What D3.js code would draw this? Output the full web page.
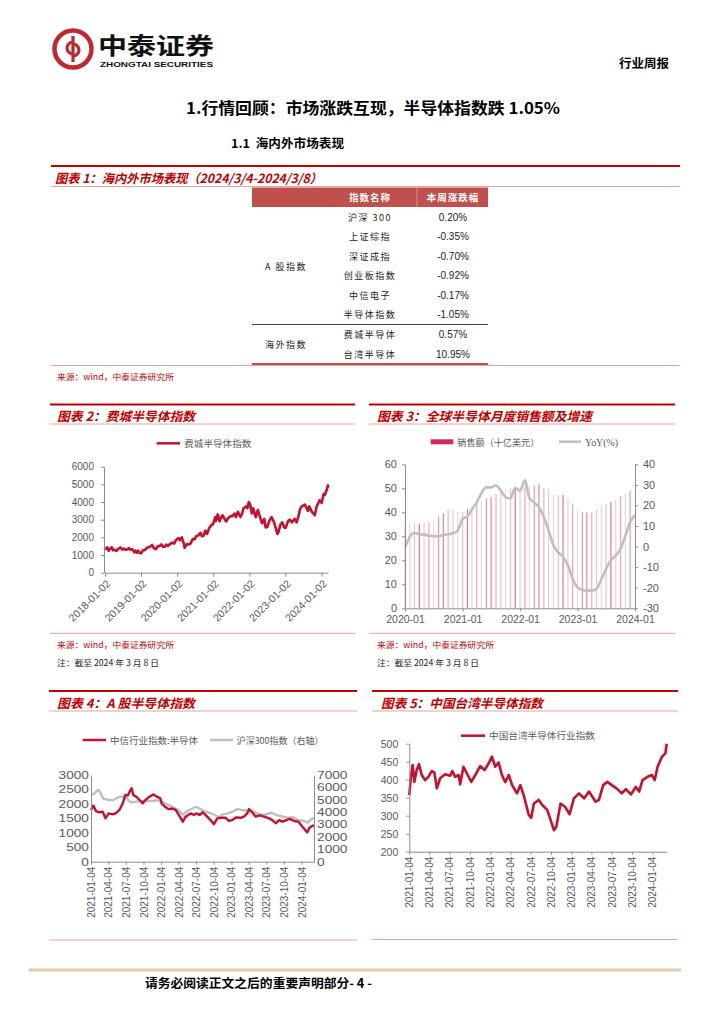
<!DOCTYPE html>
<html><head><meta charset="utf-8">
<script src="https://cdn.jsdelivr.net/npm/d3@7"></script>
<style>
body{margin:0;background:#fff;}
svg{display:block;}
</style></head><body>
<svg id="page" width="724" height="1024"></svg>
<script>
// ---------------- DATA ----------------
const tableGroups = ["A 股指数", "海外指数"];
const tableNames = ["沪深 300", "上证综指", "深证成指", "创业板指数", "中信电子", "半导体指数", "费城半导体", "台湾半导体"];
const tableChanges = ["0.20%", "-0.35%", "-0.70%", "-0.92%", "-0.17%", "-1.05%", "0.57%", "10.95%"];

// Fig 2: 费城半导体指数
const fig2YTicks = [0, 1000, 2000, 3000, 4000, 5000, 6000];
const fig2XTicks = ["2018-01-02", "2019-01-02", "2020-01-02", "2021-01-02", "2022-01-02", "2023-01-02", "2024-01-02"];
const soxSeries = [
["2018-01-02",1300],["2018-01-12",1380],["2018-01-26",1430],["2018-02-08",1240],["2018-02-26",1370],["2018-03-12",1440],
["2018-03-23",1270],["2018-04-06",1300],["2018-04-25",1230],["2018-05-15",1340],["2018-06-06",1430],["2018-06-27",1310],
["2018-07-11",1370],["2018-07-27",1300],["2018-08-15",1320],["2018-08-29",1390],["2018-09-12",1300],["2018-10-03",1340],
["2018-10-29",1150],["2018-11-08",1250],["2018-11-23",1130],["2018-12-03",1250],["2018-12-24",1100],["2019-01-03",1100],
["2019-01-18",1250],["2019-02-08",1280],["2019-03-01",1400],["2019-03-21",1450],["2019-04-10",1500],["2019-04-24",1570],
["2019-05-13",1380],["2019-05-31",1330],["2019-06-20",1500],["2019-07-10",1520],["2019-07-26",1600],["2019-08-14",1460],
["2019-09-03",1480],["2019-09-12",1590],["2019-10-02",1520],["2019-10-23",1620],["2019-11-13",1700],["2019-12-03",1650],
["2019-12-20",1830],["2020-01-17",1960],["2020-01-31",1840],["2020-02-19",2000],["2020-03-09",1650],["2020-03-18",1400],
["2020-04-08",1620],["2020-04-21",1600],["2020-05-13",1620],["2020-06-08",1900],["2020-06-26",1890],["2020-07-13",2070],
["2020-07-31",2100],["2020-08-25",2260],["2020-09-08",2070],["2020-09-23",2080],["2020-10-13",2380],["2020-10-30",2190],
["2020-11-24",2550],["2020-12-15",2700],["2020-12-31",2750],["2021-01-22",3150],["2021-01-29",2930],["2021-02-16",3300],
["2021-03-08",2900],["2021-03-19",3100],["2021-04-05",3250],["2021-05-12",2900],["2021-06-03",3100],["2021-06-25",3200],
["2021-07-15",3200],["2021-08-06",3350],["2021-08-19",3150],["2021-09-08",3450],["2021-10-04",3150],["2021-10-21",3350],
["2021-11-04",3650],["2021-11-29",3750],["2021-12-13",3650],["2021-12-27",4000],["2022-01-11",3850],["2022-01-27",3350],
["2022-02-10",3650],["2022-03-08",3150],["2022-03-29",3550],["2022-04-20",3150],["2022-05-11",2800],["2022-06-02",3050],
["2022-06-16",2560],["2022-07-05",2600],["2022-07-20",2900],["2022-08-15",3150],["2022-09-09",2850],["2022-09-30",2450],
["2022-10-13",2190],["2022-10-27",2350],["2022-11-10",2700],["2022-12-01",2850],["2022-12-22",2550],["2023-01-05",2550],
["2023-01-27",2900],["2023-02-14",3000],["2023-03-10",2850],["2023-04-06",3050],["2023-04-26",2850],["2023-05-19",3300],
["2023-05-30",3600],["2023-06-16",3750],["2023-07-18",3850],["2023-08-18",3500],["2023-09-01",3750],["2023-09-26",3450],
["2023-10-26",3250],["2023-11-14",3750],["2023-12-14",4100],["2024-01-04",3950],["2024-01-24",4450],["2024-02-05",4400],
["2024-02-22",4650],["2024-03-07",4950],["2024-03-08",4800]
];

// Fig 3: 全球半导体月度销售额及增速 (monthly from 2020-01)
const fig3Start = "2020-01-01";
const salesValues = [35.5,35.4,35.7,35.3,35.8,35.8,36.4,38.1,39.7,41.0,41.3,40.3,
  40.1,41.4,42.4,44.2,45.1,45.8,46.3,47.6,48.6,49.4,50.0,50.5,
  50.4,50.8,50.7,51.0,51.7,50.1,49.6,47.2,47.2,47.2,45.7,43.6,
  41.5,40.0,39.9,40.1,41.1,42.5,43.5,44.3,45.0,46.8,47.8,48.9];
const yoyValues = [-0.5,4.9,6.6,6.0,5.8,5.3,5.0,5.0,5.7,6.0,6.6,7.8,
  13.5,14.7,18.0,21.5,26.0,28.8,28.8,29.7,27.2,24.0,23.5,28.6,
  27.0,32.4,23.5,21.5,19.1,14.3,7.8,0.5,-2.8,-4.9,-9.2,-15.7,
  -19.8,-21.1,-21.4,-21.4,-20.6,-16.0,-10.9,-6.8,-4.4,-1.1,5.3,11.8,15.4];
const fig3LeftTicks = [0,10,20,30,40,50,60];
const fig3RightTicks = [-30,-20,-10,0,10,20,30,40];
const fig3XTicks = ["2020-01","2021-01","2022-01","2023-01","2024-01"];

// Fig 4: A股半导体指数
const fig45XTicks = ["2021-01-04","2021-04-04","2021-07-04","2021-10-04","2022-01-04","2022-04-04","2022-07-04",
  "2022-10-04","2023-01-04","2023-04-04","2023-07-04","2023-10-04","2024-01-04"];
const fig4LeftTicks = [0,500,1000,1500,2000,2500,3000];
const fig4RightTicks = [0,1000,2000,3000,4000,5000,6000,7000];
const fig4Semi = [
["2021-01-04",1790],["2021-01-16",1940],["2021-01-30",1750],["2021-02-16",1710],["2021-03-06",1730],["2021-03-20",1500],
["2021-04-06",1670],["2021-04-27",1640],["2021-05-14",1680],["2021-06-01",1790],["2021-06-18",2020],["2021-07-02",2310],
["2021-07-14",2290],["2021-07-26",2450],["2021-08-03",2540],["2021-08-12",2310],["2021-08-27",2250],["2021-09-13",2135],
["2021-09-30",2020],["2021-10-14",2135],["2021-11-04",2250],["2021-11-25",2330],["2021-12-12",2250],["2021-12-30",2190],
["2022-01-06",2020],["2022-01-24",1900],["2022-02-10",1820],["2022-03-03",1840],["2022-03-20",1790],["2022-04-06",1615],
["2022-04-26",1385],["2022-05-11",1560],["2022-06-06",1670],["2022-06-23",1615],["2022-07-06",1670],["2022-07-22",1615],
["2022-08-08",1710],["2022-08-31",1560],["2022-09-17",1440],["2022-10-05",1300],["2022-10-22",1500],["2022-11-14",1520],
["2022-12-05",1520],["2022-12-22",1410],["2023-01-08",1440],["2023-01-29",1535],["2023-02-21",1520],["2023-03-10",1560],
["2023-03-27",1670],["2023-04-05",1820],["2023-04-19",1730],["2023-05-10",1560],["2023-05-31",1600],["2023-06-23",1560],
["2023-07-19",1500],["2023-08-05",1440],["2023-08-22",1330],["2023-09-09",1440],["2023-09-26",1385],["2023-10-17",1440],
["2023-11-03",1480],["2023-11-26",1410],["2023-12-18",1385],["2024-01-08",1210],["2024-02-02",1015],["2024-02-14",1180],
["2024-03-08",1270]
];
const fig4Csi = [
["2021-01-04",5400],["2021-01-20",5500],["2021-02-10",5800],["2021-02-18",5700],["2021-03-09",5100],["2021-04-06",4980],
["2021-04-30",4980],["2021-05-27",5200],["2021-06-18",5250],["2021-07-10",5115],["2021-07-28",4800],["2021-08-24",4845],
["2021-09-13",4900],["2021-10-20",4900],["2021-11-24",4900],["2021-12-13",4980],["2022-01-06",4845],["2022-02-03",4630],
["2022-03-03",4440],["2022-04-03",4170],["2022-04-26",3800],["2022-05-20",4090],["2022-07-04",4440],["2022-07-20",4310],
["2022-08-15",4090],["2022-09-20",3900],["2022-10-31",3600],["2022-11-20",3820],["2022-12-15",3900],["2023-01-10",4040],
["2023-02-05",4250],["2023-02-28",4170],["2023-04-03",4090],["2023-04-28",4040],["2023-05-25",3850],["2023-06-20",3770],
["2023-07-31",3950],["2023-08-25",3770],["2023-09-30",3630],["2023-10-25",3550],["2023-11-20",3600],["2023-12-20",3350],
["2024-01-15",3300],["2024-02-05",3150],["2024-02-20",3400],["2024-03-08",3550]
];

// Fig 5: 中国台湾半导体行业指数
const fig5YTicks = [200,250,300,350,400,450,500];
const fig5Series = [
["2021-01-04",357],["2021-01-10",399],["2021-01-19",441],["2021-01-27",394],["2021-02-06",427],["2021-02-17",443],
["2021-03-01",413],["2021-03-16",399],["2021-03-31",408],["2021-04-15",424],["2021-04-27",420],["2021-05-08",376],
["2021-05-23",404],["2021-06-14",415],["2021-07-07",411],["2021-07-17",424],["2021-07-29",408],["2021-08-14",413],
["2021-08-21",387],["2021-09-05",436],["2021-09-20",418],["2021-10-10",394],["2021-10-28",413],["2021-11-19",438],
["2021-12-09",427],["2021-12-27",445],["2022-01-11",464],["2022-01-26",436],["2022-02-10",448],["2022-02-25",413],
["2022-03-12",393],["2022-03-28",413],["2022-04-12",385],["2022-05-04",362],["2022-05-19",385],["2022-06-03",357],
["2022-06-26",302],["2022-07-07",294],["2022-07-19",334],["2022-08-10",344],["2022-08-25",330],["2022-09-17",316],
["2022-10-05",283],["2022-10-17",260],["2022-10-28",269],["2022-11-16",334],["2022-12-06",325],["2022-12-27",304],
["2023-01-15",348],["2023-02-07",362],["2023-03-02",348],["2023-03-24",367],["2023-04-23",339],["2023-05-08",344],
["2023-05-27",385],["2023-06-15",394],["2023-07-05",385],["2023-07-26",376],["2023-08-19",362],["2023-09-06",374],
["2023-09-29",359],["2023-10-21",380],["2023-11-05",367],["2023-11-20",399],["2023-12-13",408],["2024-01-02",413],
["2024-01-14",399],["2024-01-27",436],["2024-02-16",464],["2024-03-02",473],["2024-03-08",500]
];

// ---------------- STYLE ----------------
const CN = '"Noto Sans CJK SC","Noto Sans CJK JP",sans-serif';
const NUM = '"Liberation Sans",Arial,sans-serif';
const RED = "#c00000";
const SERIES_RED = "#c8102e";
const GRAY = "#bfbfbf";
const THIN = "#eda39b";
const AXIS = "#8c8c8c";
const LABEL = "#595959";
const plain = d => String(d);

const parse = d3.timeParse("%Y-%m-%d");
const svg = d3.select("#page");

function txt(x, y, s, o = {}) {
  const t = svg.append("text").attr("x", x).attr("y", y).text(s)
    .attr("font-family", o.ff || CN).attr("font-size", o.fs || 10)
    .attr("fill", o.fill || "#000").attr("font-weight", o.fw || "normal")
    .attr("font-style", o.fst || "normal").attr("text-anchor", o.anchor || "start")
    .attr("dominant-baseline", "central").style("white-space", "pre");
  if (o.len) t.attr("textLength", o.len).attr("lengthAdjust", "spacingAndGlyphs");
  if (o.ls) t.attr("letter-spacing", o.ls);
  return t;
}
function hline(x1, x2, y, color, w) {
  svg.append("line").attr("x1", x1).attr("x2", x2).attr("y1", y).attr("y2", y)
    .attr("stroke", color).attr("stroke-width", w);
}
function styleAxis(g, fs) {
  g.select(".domain").attr("stroke", AXIS).attr("stroke-width", 1);
  g.selectAll(".tick line").attr("stroke", AXIS);
  g.selectAll(".tick text").attr("fill", LABEL).attr("font-family", NUM).attr("font-size", fs);
}
function figFrame(x1, x2, yTop, title, titleLen, titleX, yThin, yBottom) {
  hline(x1, x2, yTop, RED, 2);
  txt(titleX, yTop + 11, title, {fs: 12.5, fw: "bold", fst: "italic", fill: RED, len: titleLen});
  hline(x1, x2, yThin, THIN, 1);
  hline(x1, x2, yBottom, THIN, 1);
}

// ---------------- HEADER ----------------
const logo = svg.append("g");
logo.append("circle").attr("cx", 73).attr("cy", 49).attr("r", 18.5)
  .attr("fill", "none").attr("stroke", "#c1272d").attr("stroke-width", 4.5);
logo.append("path").attr("d", "M73,36 L73,62 M73,42 A6,6 0 1,0 73,54 M73,44 A6,6 0 1,1 73,56")
  .attr("fill", "none").attr("stroke", "#c1272d").attr("stroke-width", 3.2);
txt(98, 44, "中泰证券", {fs: 23, fw: "bold", len: 116, fill: "#111"});
txt(100, 64, "ZHONGTAI SECURITIES", {ff: NUM, fs: 8, fw: "bold", len: 113, fill: "#111"});
txt(619, 62, "行业周报", {fs: 12, fw: "bold", len: 50});
txt(186, 107, "1.行情回顾：市场涨跌互现，半导体指数跌 1.05%", {fs: 15.5, fw: "bold", len: 374});
txt(231, 142, "1.1\u00a0\u00a0海内外市场表现", {fs: 12, fw: "bold", len: 113});

// ---------------- FIG 1 TABLE ----------------
hline(51, 680, 166, RED, 2);
txt(55, 177, "图表 1：海内外市场表现（2024/3/4-2024/3/8）", {fs: 12.5, fw: "bold", fst: "italic", fill: RED, len: 267});
hline(51, 680, 186.5, THIN, 1);
const tX0 = 252, tX1 = 488, tDiv = 417;
svg.append("rect").attr("x", tX0).attr("y", 187.5).attr("width", tX1 - tX0).attr("height", 19.5).attr("fill", "#c0504d");
svg.append("line").attr("x1", tDiv).attr("x2", tDiv).attr("y1", 187.5).attr("y2", 207).attr("stroke", "#d98b88").attr("stroke-width", 1);
txt(370, 197, "指数名称", {fs: 9.5, fw: "bold", fill: "#fff", anchor: "middle", ls: 1});
txt(453, 197, "本周涨跌幅", {fs: 9.5, fw: "bold", fill: "#fff", anchor: "middle", ls: 1});
const rowY = [217, 236.5, 256, 275.5, 295, 314.5, 334.5, 354];
tableNames.forEach((n, i) => {
  txt(370, rowY[i], n, {fs: 9, anchor: "middle", ls: 1.5, fill: "#222"});
  txt(453, rowY[i], tableChanges[i], {ff: NUM, fs: 10, anchor: "middle", fill: "#222"});
});
txt(286, 266, tableGroups[0], {fs: 9, anchor: "middle", ls: 1.5, fill: "#222"});
txt(286, 344.5, tableGroups[1], {fs: 9, anchor: "middle", ls: 1.5, fill: "#222"});
hline(tX0, tX1, 324.5, "#404040", 1);
hline(tX0, tX1, 364, "#c0504d", 2);
hline(51, 680, 365.5, THIN, 1);
txt(57, 375.5, "来源：wind，中泰证券研究所", {fs: 8.5, fill: RED, len: 117});

// ---------------- FIG 2 ----------------
figFrame(50, 355, 404.5, "图表 2：费城半导体指数", 138, 57, 424, 633.3);
txt(57, 643.5, "来源：wind，中泰证券研究所", {fs: 8.5, fill: RED, len: 117});
txt(57, 661.7, "注：截至 2024 年 3 月 8 日", {fs: 8.5, fill: "#222", len: 102});
svg.append("line").attr("x1", 156.7).attr("x2", 180).attr("y1", 443.3).attr("y2", 443.3).attr("stroke", SERIES_RED).attr("stroke-width", 2.5);
txt(184.3, 443.3, "费城半导体指数", {fs: 9, fill: LABEL, len: 67});
{
  const x = d3.scaleTime().domain([parse("2018-01-02"), parse("2024-03-08")]).range([105, 328]);
  const y = d3.scaleLinear().domain([0, 6000]).range([572.7, 466.7]);
  svg.append("path").datum(soxSeries).attr("fill", "none").attr("stroke", SERIES_RED).attr("stroke-width", 2.6)
    .attr("stroke-linejoin", "round")
    .attr("d", d3.line().x(d => x(parse(d[0]))).y(d => y(d[1])));
  const gL = svg.append("g").attr("transform", "translate(104,0)")
    .call(d3.axisLeft(y).tickValues(fig2YTicks).tickFormat(plain).tickSize(3).tickPadding(7).tickSizeOuter(0));
  styleAxis(gL, 10);
  const gB = svg.append("g").attr("transform", "translate(0,572.7)")
    .call(d3.axisBottom(x).tickValues(fig2XTicks.map(parse)).tickSize(4).tickSizeOuter(0)
      .tickFormat(d3.timeFormat("%Y-%m-%d")));
  styleAxis(gB, 10.5);
  gB.selectAll(".tick text").attr("x", 0).attr("y", 0).attr("dy", "0.35em")
    .attr("transform", "translate(3,9) rotate(-45)").style("text-anchor", "end");
}

// ---------------- FIG 3 ----------------
figFrame(369, 675, 404.5, "图表 3：全球半导体月度销售额及增速", 215, 377, 424, 633.3);
txt(377, 643.5, "来源：wind，中泰证券研究所", {fs: 8.5, fill: RED, len: 117});
txt(377, 661.7, "注：截至 2024 年 3 月 8 日", {fs: 8.5, fill: "#222", len: 102});
svg.append("rect").attr("x", 430.7).attr("y", 439.3).attr("width", 22.6).attr("height", 5).attr("fill", "#d42a56");
txt(457.3, 442, "销售额（十亿美元）", {fs: 9, fill: LABEL, len: 82});
svg.append("line").attr("x1", 559).attr("x2", 581).attr("y1", 441.7).attr("y2", 441.7).attr("stroke", GRAY).attr("stroke-width", 2.5);
txt(585, 442, "YoY(%)", {ff: '"Liberation Serif",serif', fs: 10, fill: LABEL, len: 33});
{
  const start = d3.timeParse("%Y-%m-%d")(fig3Start);
  const months = d3.range(yoyValues.length).map(i => d3.timeMonth.offset(start, i));
  const x = d3.scaleTime().domain([months[0], months[months.length - 1]]).range([405, 635]);
  const yL = d3.scaleLinear().domain([0, 60]).range([608.3, 464.3]);
  const yR = d3.scaleLinear().domain([-30, 40]).range([608.3, 464.3]);
  const shades = ["#f4c4cf", "#f7d0d9", "#f3bcc9", "#e5738f", "#f5c8d2", "#eea3b5", "#f7d5dc", "#ec97ad", "#e8859e", "#f1aebe"];
  svg.append("g").selectAll("rect").data(salesValues).join("rect")
    .attr("x", (d, i) => x(months[i]) - 0.6).attr("width", 1.2)
    .attr("y", d => yL(d)).attr("height", d => yL(0) - yL(d))
    .attr("fill", (d, i) => shades[i % shades.length]);
  svg.append("path").datum(yoyValues).attr("fill", "none").attr("stroke", GRAY).attr("stroke-width", 2.6)
    .attr("stroke-linejoin", "round")
    .attr("d", d3.line().x((d, i) => x(months[i])).y(d => yR(d)).curve(d3.curveMonotoneX));
  const gL = svg.append("g").attr("transform", "translate(405,0)")
    .call(d3.axisLeft(yL).tickValues(fig3LeftTicks).tickFormat(plain).tickSize(3).tickPadding(5).tickSizeOuter(0));
  styleAxis(gL, 11);
  const gR = svg.append("g").attr("transform", "translate(635,0)")
    .call(d3.axisRight(yR).tickValues(fig3RightTicks).tickFormat(plain).tickSize(3).tickPadding(5).tickSizeOuter(0));
  styleAxis(gR, 11);
  const tickDates = fig3XTicks.map(s => d3.timeParse("%Y-%m")(s));
  const gB = svg.append("g").attr("transform", "translate(0,608.3)")
    .call(d3.axisBottom(x).tickValues(tickDates).tickSize(3).tickPadding(4).tickSizeOuter(0)
      .tickFormat(d3.timeFormat("%Y-%m")));
  styleAxis(gB, 10.5);
}

// ---------------- FIG 4 ----------------
figFrame(49, 357, 691, "图表 4：A 股半导体指数", 138, 57, 711, 940);
svg.append("line").attr("x1", 82.7).attr("x2", 106).attr("y1", 740).attr("y2", 740).attr("stroke", SERIES_RED).attr("stroke-width", 2.5);
txt(110, 740, "中信行业指数:半导体", {fs: 9, fill: LABEL, len: 88});
svg.append("line").attr("x1", 210).attr("x2", 233.3).attr("y1", 740).attr("y2", 740).attr("stroke", GRAY).attr("stroke-width", 2.5);
txt(236.7, 740, "沪深300指数（右轴）", {fs: 9, fill: LABEL, len: 86.7});
{
  const x = d3.scaleTime().domain([parse("2021-01-04"), parse("2024-03-08")]).range([91, 314]);
  const yL = d3.scaleLinear().domain([0, 3000]).range([861.7, 775]);
  const yR = d3.scaleLinear().domain([0, 7000]).range([861.7, 775]);
  svg.append("path").datum(fig4Csi).attr("fill", "none").attr("stroke", GRAY).attr("stroke-width", 2.4)
    .attr("stroke-linejoin", "round")
    .attr("d", d3.line().x(d => x(parse(d[0]))).y(d => yR(d[1])));
  svg.append("path").datum(fig4Semi).attr("fill", "none").attr("stroke", SERIES_RED).attr("stroke-width", 2.4)
    .attr("stroke-linejoin", "round")
    .attr("d", d3.line().x(d => x(parse(d[0]))).y(d => yL(d[1])));
  const gL = svg.append("g").attr("transform", "translate(91,0)")
    .call(d3.axisLeft(yL).tickValues(fig4LeftTicks).tickFormat(plain).tickSize(0).tickPadding(2).tickSizeOuter(0));
  styleAxis(gL, 10.5);
  gL.selectAll(".tick text").attr("x", -1.6).attr("transform", "scale(1.3,1)");
  const gR = svg.append("g").attr("transform", "translate(314,0)")
    .call(d3.axisRight(yR).tickValues(fig4RightTicks).tickFormat(plain).tickSize(0).tickPadding(2).tickSizeOuter(0));
  styleAxis(gR, 10.5);
  gR.selectAll(".tick text").attr("x", 2.4).attr("transform", "scale(1.3,1)");
  const gB = svg.append("g").attr("transform", "translate(0,861.7)")
    .call(d3.axisBottom(x).tickValues(fig45XTicks.map(parse)).tickSize(3).tickSizeOuter(0)
      .tickFormat(d3.timeFormat("%Y-%m-%d")));
  styleAxis(gB, 10);
  gB.selectAll(".tick text").attr("x", 0).attr("y", 0).attr("dy", "0.35em")
    .attr("transform", "translate(0,5) rotate(-90)").style("text-anchor", "end");
}

// ---------------- FIG 5 ----------------
figFrame(372, 678, 691, "图表 5：中国台湾半导体指数", 162, 381, 711, 939.5);
svg.append("line").attr("x1", 461).attr("x2", 485).attr("y1", 735.7).attr("y2", 735.7).attr("stroke", SERIES_RED).attr("stroke-width", 2.5);
txt(489, 735.7, "中国台湾半导体行业指数", {fs: 9, fill: LABEL, len: 106});
{
  const x = d3.scaleTime().domain([parse("2021-01-04"), parse("2024-03-08")]).range([409.3, 666.7]);
  const y = d3.scaleLinear().domain([200, 500]).range([851.7, 743.7]);
  svg.append("path").datum(fig5Series).attr("fill", "none").attr("stroke", SERIES_RED).attr("stroke-width", 2.6)
    .attr("stroke-linejoin", "round")
    .attr("d", d3.line().x(d => x(parse(d[0]))).y(d => y(d[1])));
  const gL = svg.append("g").attr("transform", "translate(409.3,0)")
    .call(d3.axisLeft(y).tickValues(fig5YTicks).tickFormat(plain).tickSize(3).tickPadding(8).tickSizeOuter(0));
  styleAxis(gL, 10.5);
  const gB = svg.append("g").attr("transform", "translate(0,851.7)")
    .call(d3.axisBottom(x).tickValues(fig45XTicks.map(parse)).tickSize(3).tickSizeOuter(0)
      .tickFormat(d3.timeFormat("%Y-%m-%d")));
  styleAxis(gB, 10);
  gB.selectAll(".tick text").attr("x", 0).attr("y", 0).attr("dy", "0.35em")
    .attr("transform", "translate(0,5) rotate(-90)").style("text-anchor", "end");
}

// ---------------- FOOTER ----------------
hline(28.6, 681, 970, "#e8c7ad", 3);
txt(145, 982.5, "请务必阅读正文之后的重要声明部分- 4 -", {fs: 12.5, fw: "bold", len: 227});
</script>
</body></html>
